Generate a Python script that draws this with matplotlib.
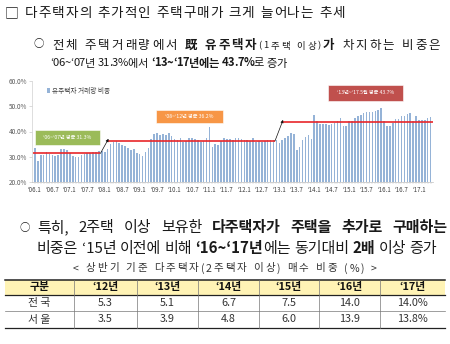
import matplotlib
matplotlib.use('Agg')
import matplotlib.pyplot as plt
from matplotlib.patches import Rectangle

plt.rcParams['font.family'] = ['Noto Sans CJK KR', 'DejaVu Sans']

# 유주택자 거래량 비중 (%), monthly '06.1 ~ '17.5
share_06 = [33.5, 28.2, 30.8, 30.8, 32.0, 30.9, 30.6, 30.3, 30.8, 33.0, 33.0, 32.6]
share_07 = [31.5, 30.2, 30.0, 29.8, 30.5, 31.0, 31.6, 31.4, 31.9, 31.8, 32.2, 32.2]
share_08 = [31.8, 33.2, 35.0, 36.0, 36.2, 35.6, 34.6, 34.4, 33.3, 32.6, 33.0, 31.5]
share_09 = [31.0, 30.3, 31.8, 33.4, 37.0, 39.2, 39.4, 38.7, 38.9, 38.6, 39.6, 38.2]
share_10 = [37.0, 36.8, 37.6, 36.0, 36.4, 37.6, 37.6, 37.2, 36.6, 35.9, 36.3, 37.3]
share_11 = [41.7, 34.0, 35.0, 34.6, 36.2, 37.5, 37.2, 37.0, 36.8, 37.4, 37.6, 37.0]
share_12 = [36.8, 36.5, 36.2, 37.6, 36.0, 36.4, 36.0, 36.3, 36.8, 36.6, 36.7, 36.5]
share_13 = [35.6, 36.8, 37.3, 38.4, 39.3, 39.2, 32.5, 33.8, 36.6, 37.9, 38.8, 37.2]
share_14 = [46.7, 44.1, 43.0, 43.0, 43.0, 42.4, 43.0, 43.4, 44.1, 45.2, 42.1, 42.1]
share_15 = [44.1, 44.3, 45.4, 46.1, 46.7, 47.4, 47.8, 47.6, 47.9, 48.2, 48.4, 49.2]
share_16 = [44.1, 42.1, 42.1, 43.4, 45.0, 45.0, 46.3, 46.3, 47.0, 47.4, 44.1, 46.1]
share_17 = [44.7, 44.7, 44.7, 45.4, 45.7]

share = (share_06 + share_07 + share_08 + share_09 + share_10 + share_11 +
         share_12 + share_13 + share_14 + share_15 + share_16 + share_17)

tick_labels = ["‘06.1", "‘06.7", "‘07.1", "‘07.7", "‘08.1", "‘08.7", "‘09.1", "‘09.7",
               "‘10.1", "‘10.7", "‘11.1", "‘11.7", "‘12.1", "‘12.7", "‘13.1", "‘13.7",
               "‘14.1", "‘14.7", "‘15.1", "‘15.7", "‘16.1", "‘16.7", "‘17.1"]

# period averages: first / last month index of each period
avg_values = [31.3, 36.2, 43.7]
avg_start = [0, 24, 84]
avg_end = [23, 83, 136]
avg_labels = ["‘06~‘07년 평균 31.3%", "‘08~‘12년 평균 36.2%", "‘13년~‘17.5월 평균 43.7%"]
avg_colors = ['#9BBB59', '#F79646', '#C0504D']

# table: 상반기 기준 다주택자(2주택자 이상) 매수 비중 (%)
table_cols = ["구분", "‘12년", "‘13년", "‘14년", "‘15년", "‘16년", "‘17년"]
row_names = ["전 국", "서 울"]
nationwide = [5.3, 5.1, 6.7, 7.5, 14.0, 14.0]
seoul = [3.5, 3.9, 4.8, 6.0, 13.9, 13.8]

W, H = 450, 344
fig = plt.figure(figsize=(W / 100, H / 100), dpi=100)
fig.patch.set_facecolor('white')

# page layer in pixel coordinates
ax0 = fig.add_axes([0, 0, 1, 1])
ax0.set_xlim(0, W)
ax0.set_ylim(H, 0)
ax0.axis('off')
renderer = fig.canvas.get_renderer()
TXT = '#1a1a1a'


def rich_line(x0, base, parts, size, x1, color=TXT, mode='word'):
    # mode 'word': spread the spaces to fill x0..x1
    # mode 'char': set every character alone and spread the tracking
    items = []
    for text, bold, scale in parts:
        pieces = list(text) if mode == 'char' else text.split(' ')
        for i, w in enumerate(pieces):
            if mode == 'word' and i > 0:
                items.append(None)
            if w == ' ':
                items.append((None, size * scale * 1.389 * 0.3))
            elif w:
                t = ax0.text(0, base, w, fontsize=size * scale, color=color,
                             fontweight='bold' if bold else 'normal',
                             va='baseline', ha='left')
                items.append((t, t.get_window_extent(renderer=renderer).width))
    natural = sum(s[1] for s in items if s is not None)
    if mode == 'word':
        n = sum(1 for s in items if s is None)
    else:
        n = len(items) - 1
    extra = (x1 - x0 - natural) / max(n, 1)
    x = x0
    for s in items:
        if s is None:
            x += extra
            continue
        if s[0] is not None:
            s[0].set_x(x)
        x += s[1] + (extra if mode == 'char' else 0)


# heading
ax0.text(5, 17, "□", fontsize=10, color=TXT, va='baseline', ha='left')
rich_line(25, 17, [("다주택자의 추가적인 주택구매가 크게 늘어나는 추세", False, 1)], 9.8, 345,
          mode='char')

ax0.text(34, 47.5, "○", fontsize=7.5, color=TXT, va='baseline', ha='left')
rich_line(52, 48.5, [("전체 주택거래량에서 ", False, 1), ("既 유주택자", True, 1),
                     ("(1주택 이상)", False, 0.75), ("가", True, 1),
                     (" 차지하는 비중은", False, 1)], 9.0, 440, mode='char')
rich_line(50, 66.5, [("‘06~‘07년 31.3%에서 ", False, 1), ("‘13~‘17년에는 43.7%", True, 1),
                     ("로 증가", False, 1)], 8.1, 287, mode='char')

ax0.text(19, 231, "○", fontsize=7.5, color=TXT, va='baseline', ha='left')
rich_line(37, 232, [("특히, 2주택 이상 보유한 ", False, 1),
                    ("다주택자가 주택을 추가로 구매하는", True, 1)], 10.8, 447)
rich_line(37, 252.5, [("비중은 ‘15년 이전에 비해 ", False, 1), ("‘16~‘17년", True, 1),
                      ("에는 동기대비 ", False, 1), ("2배", True, 1), (" 이상 증가", False, 1)],
          10.8, 437)

# table
rich_line(73, 271.5, [("< 상반기 기준 다주택자(2주택자 이상) 매수 비중 (%) >", False, 1)], 7.6, 377,
          color='#333333', mode='char')
col_edges = [5, 74, 137, 198, 259, 319, 380, 445]
row_edges = [280, 294.5, 311, 328]
ax0.add_patch(Rectangle((col_edges[0], row_edges[0]), col_edges[-1] - col_edges[0],
                        row_edges[1] - row_edges[0], facecolor='#FFF3B5', edgecolor='none'))
ax0.plot([col_edges[0], col_edges[-1]], [row_edges[0]] * 2, color='#222222', lw=1.1)
ax0.plot([col_edges[0], col_edges[-1]], [row_edges[1]] * 2, color='#222222', lw=0.9)
ax0.plot([col_edges[0], col_edges[-1]], [row_edges[2]] * 2, color='#777777', lw=0.5)
ax0.plot([col_edges[0], col_edges[-1]], [row_edges[3]] * 2, color='#222222', lw=0.9)
for cx in col_edges[1:-1]:
    ax0.plot([cx, cx], [row_edges[0], row_edges[-1]], color='#777777', lw=0.5)
cell_rows = [table_cols,
             [row_names[0]] + ["%.1f" % v for v in nationwide[:-1]] + ["%.1f%%" % nationwide[-1]],
             [row_names[1]] + ["%.1f" % v for v in seoul[:-1]] + ["%.1f%%" % seoul[-1]]]
for r, cells in enumerate(cell_rows):
    yc = (row_edges[r] + row_edges[r + 1]) / 2
    for c, val in enumerate(cells):
        xc = (col_edges[c] + col_edges[c + 1]) / 2
        ax0.text(xc, yc, val, fontsize=7.8, ha='center', va='center',
                 color='#111111' if r == 0 else '#333333',
                 fontweight='bold' if r == 0 else 'normal')

# chart
ax = fig.add_axes([32 / W, 1 - 182 / H, 401.5 / W, 101 / H])
ax.set_facecolor('none')
months = range(len(share))
bars = ax.bar(months, share, width=0.55, color='#95B3D7', label='유주택자 거래량 비중', zorder=2)
ax.set_xlim(-1.0, 137.0)
ax.set_ylim(20, 60)
ax.set_yticks([20, 30, 40, 50, 60])
ax.set_yticklabels(["%.1f%%" % v for v in [20, 30, 40, 50, 60]])
ax.set_xticks(range(0, len(share), 6))
ax.set_xticklabels(tick_labels)
ax.set_xticks(months, minor=True)
ax.tick_params(axis='y', labelsize=4.6, labelcolor='#595959', length=2, width=0.4,
               color='#BFBFBF', pad=1.5)
ax.tick_params(axis='x', which='major', labelsize=4.4, labelcolor='#404040', length=1.5,
               width=0.3, color='#BFBFBF', pad=1.5)
ax.tick_params(axis='x', which='minor', length=1.5, width=0.3, color='#BFBFBF')
for s in ['top', 'right']:
    ax.spines[s].set_visible(False)
ax.spines['left'].set_color('#D0D0D0')
ax.spines['left'].set_linewidth(0.5)
ax.spines['bottom'].set_color('#BFBFBF')
ax.spines['bottom'].set_linewidth(0.5)

for i, v in enumerate(avg_values):
    x_from = avg_start[i] - 0.7 if i == 0 else avg_start[i] + 1
    x_to = avg_end[i] + 1 if i == len(avg_values) - 1 else avg_end[i] - 0.5
    ax.hlines(v, x_from, x_to, color='#E8262A', lw=1.2, zorder=3)
    if i > 0:
        prev_to = avg_end[i - 1] - 0.5
        ax.annotate('', xy=(x_from + 0.3, v + 0.9), xytext=(prev_to, avg_values[i - 1]),
                    arrowprops=dict(arrowstyle='-|>', color='#111111', lw=0.5,
                                    mutation_scale=4, shrinkA=0, shrinkB=0), zorder=4)

box_x = [(0, 22.3), (41.6, 64.6), (100.7, 126.5)]
box_y = [(34.7, 40.6), (43.4, 48.5), (52.1, 58.4)]
for i, lab in enumerate(avg_labels):
    (xa, xb), (ya, yb) = box_x[i], box_y[i]
    ax.add_patch(Rectangle((xa, ya), xb - xa, yb - ya, facecolor=avg_colors[i],
                           edgecolor='white', lw=0.4, zorder=5))
    ax.text((xa + xb) / 2, (ya + yb) / 2, lab, fontsize=3.7, color='white',
            ha='center', va='center', zorder=6)

ax.legend(handles=[bars], loc='upper left', bbox_to_anchor=(0.025, 0.985), frameon=False,
          fontsize=4.8, handlelength=0.5, handleheight=0.8, handletextpad=0.3,
          borderpad=0.2, labelcolor='#404040')

fig.savefig('out.png', dpi=100, facecolor='white')
